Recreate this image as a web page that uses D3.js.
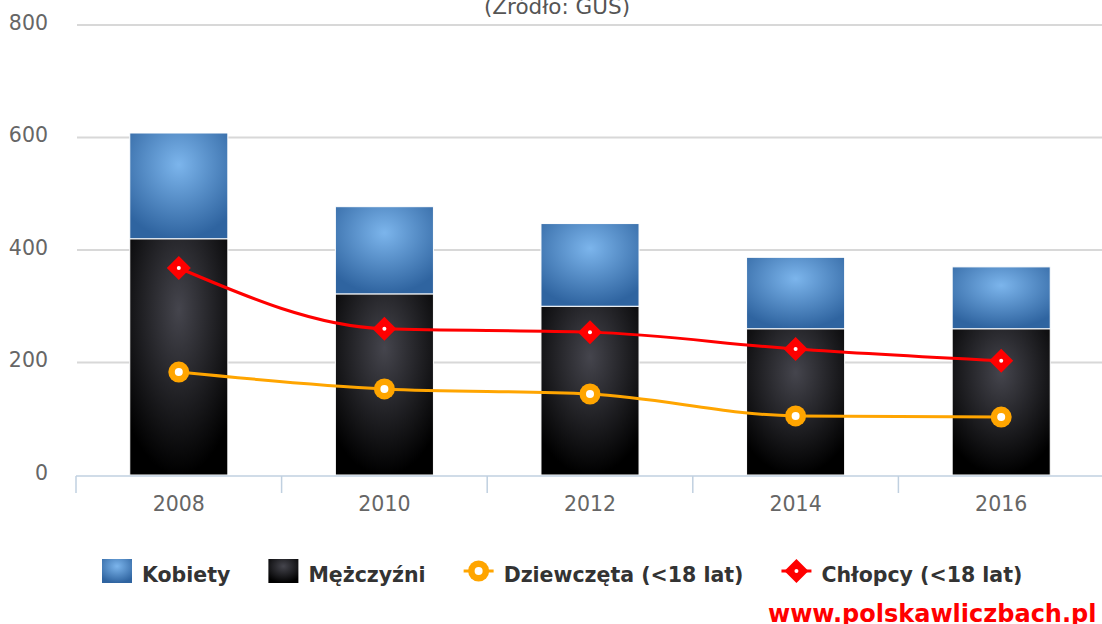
<!DOCTYPE html>
<html lang="pl">
<head>
<meta charset="utf-8">
<title>Ofiary wypadków</title>
<style>
  body { margin: 0; background: #fff; }
  svg { display: block; font-family: "DejaVu Sans", sans-serif; }
  .grid line { stroke: #d8d8d8; stroke-width: 2px; }
  .tick-label { fill: #666; font-size: 20.5px; }
</style>
</head>
<body>
<script src="https://d3js.org/d3.v7.min.js"></script>
<script>
// data
var years = ["2008", "2010", "2012", "2014", "2016"];
var kobiety = [188, 155, 147, 127, 110];
var mezczyzni = [420, 322, 300, 260, 260];
var dziewczeta = [183, 153, 144, 105, 103];
var chlopcy = [368, 260, 254, 224, 203];
var yTicks = [0, 200, 400, 600, 800];
var legendNames = ["Kobiety", "Mężczyźni", "Dziewczęta (<18 lat)", "Chłopcy (<18 lat)"];

var W = 1102, H = 624;
var svg = d3.select("body").append("svg").attr("width", W).attr("height", H);

// gradients
var defs = svg.append("defs");
function radial(id, c0, c1) {
  var g = defs.append("radialGradient").attr("id", id)
    .attr("cx", 0.5).attr("cy", 0.3).attr("r", 0.7);
  g.append("stop").attr("offset", 0).attr("stop-color", c0);
  g.append("stop").attr("offset", 1).attr("stop-color", c1);
}
radial("gBlue", "#7cb5ec", "#2f64a0");
radial("gBlack", "#45454d", "#000000");

var xScale = d3.scaleBand().domain(years).range([76, 1104]).padding(0);
var yScale = d3.scaleLinear().domain([0, 800]).range([475, 25]);
var barW = xScale.bandwidth() * 0.477;
var cx = d => xScale(d) + xScale.bandwidth() / 2;

// title (cut at top)
svg.append("text").attr("x", 557).attr("y", 14)
  .attr("text-anchor", "middle").attr("fill", "#555").style("font-size", "21.5px")
  .text("(Źródło: GUS)");

// gridlines
svg.append("g").attr("class", "grid").selectAll("line")
  .data(yTicks.filter(d => d > 0)).join("line")
  .attr("x1", 77).attr("x2", W)
  .attr("y1", d => yScale(d)).attr("y2", d => yScale(d));

// y labels
svg.append("g").selectAll("text").data(yTicks).join("text")
  .attr("class", "tick-label")
  .attr("x", 48).attr("y", d => yScale(d)).attr("dy", "0.23em")
  .attr("text-anchor", "end").text(d => d);

// stacked bars
var bars = svg.append("g");
years.forEach(function(yr, i) {
  bars.append("rect")
    .attr("x", cx(yr) - barW / 2).attr("width", barW)
    .attr("y", yScale(mezczyzni[i])).attr("height", yScale(0) - yScale(mezczyzni[i]))
    .attr("fill", "url(#gBlack)").attr("stroke", "#fff").attr("stroke-width", 1);
  bars.append("rect")
    .attr("x", cx(yr) - barW / 2).attr("width", barW)
    .attr("y", yScale(mezczyzni[i] + kobiety[i])).attr("height", yScale(0) - yScale(kobiety[i]))
    .attr("fill", "url(#gBlue)").attr("stroke", "#fff").attr("stroke-width", 1);
});

// x axis
var xAxis = svg.append("g");
xAxis.append("line").attr("x1", 76).attr("x2", W).attr("y1", 476).attr("y2", 476)
  .attr("stroke", "#c0d0e0").attr("stroke-width", 1.5);
xAxis.selectAll("line.tk").data(years).join("line").attr("class", "tk")
  .attr("x1", d => xScale(d)).attr("x2", d => xScale(d))
  .attr("y1", 476).attr("y2", 493).attr("stroke", "#c0d0e0").attr("stroke-width", 1.5);
xAxis.selectAll("text").data(years).join("text").attr("class", "tick-label")
  .attr("x", d => cx(d)).attr("y", 511).attr("text-anchor", "middle").text(d => d);

// lines
var line = d3.line().x(d => cx(d.year)).y(d => yScale(d.v)).curve(d3.curveMonotoneX);
function series(vals) { return years.map((y, i) => ({ year: y, v: vals[i] })); }

svg.append("path").datum(series(dziewczeta)).attr("d", line)
  .attr("fill", "none").attr("stroke", "#ffa500").attr("stroke-width", 3);
svg.append("path").datum(series(chlopcy)).attr("d", line)
  .attr("fill", "none").attr("stroke", "#ff0000").attr("stroke-width", 3);

function circleMark(g, x, y) {
  g.append("circle").attr("cx", x).attr("cy", y).attr("r", 10.5).attr("fill", "#ffa500");
  g.append("circle").attr("cx", x).attr("cy", y).attr("r", 4).attr("fill", "#fff");
}
function diamondMark(g, x, y) {
  g.append("path").attr("d", `M${x},${y - 12}L${x + 12},${y}L${x},${y + 12}L${x - 12},${y}Z`)
    .attr("fill", "#ff0000");
  g.append("circle").attr("cx", x).attr("cy", y).attr("r", 2).attr("fill", "#fff");
}
var marks = svg.append("g");
series(dziewczeta).forEach(d => circleMark(marks, cx(d.year), yScale(d.v)));
series(chlopcy).forEach(d => diamondMark(marks, cx(d.year), yScale(d.v)));

// legend
var leg = svg.append("g");
var lx = 102, ly = 571;
legendNames.forEach(function(name, i) {
  var g = leg.append("g");
  if (i === 0 || i === 1) {
    g.append("rect").attr("x", lx).attr("y", ly - 12).attr("width", 30).attr("height", 24)
      .attr("fill", i === 0 ? "url(#gBlue)" : "url(#gBlack)");
  } else if (i === 2) {
    g.append("line").attr("x1", lx).attr("x2", lx + 30).attr("y1", ly).attr("y2", ly)
      .attr("stroke", "#ffa500").attr("stroke-width", 3);
    circleMark(g, lx + 15, ly);
  } else {
    g.append("line").attr("x1", lx).attr("x2", lx + 30).attr("y1", ly).attr("y2", ly)
      .attr("stroke", "#ff0000").attr("stroke-width", 3);
    diamondMark(g, lx + 15, ly);
  }
  var t = g.append("text").attr("x", lx + 40).attr("y", ly + 11)
    .attr("fill", "#333").style("font-size", "20.5px").style("font-weight", "bold")
    .text(name);
  lx = lx + 40 + t.node().getComputedTextLength() + 38;
});

// watermark
svg.append("text").attr("x", 768).attr("y", 622)
  .attr("fill", "#ff0000").style("font-size", "24px").style("font-weight", "bold")
  .text("www.polskawliczbach.pl");
</script>
</body>
</html>
